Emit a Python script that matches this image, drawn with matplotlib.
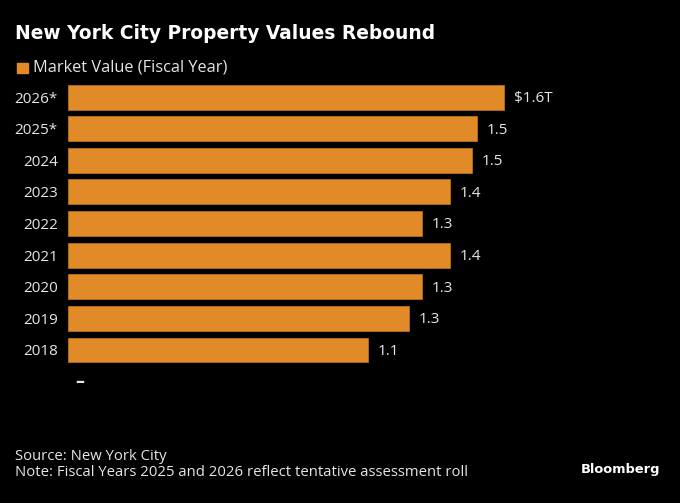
import matplotlib
matplotlib.use("Agg")
import matplotlib.pyplot as plt
from matplotlib import font_manager

# Data
years = ["2018", "2019", "2020", "2021", "2022", "2023", "2024", "2025*", "2026*"]
values = [1.10, 1.25, 1.30, 1.40, 1.30, 1.40, 1.48, 1.50, 1.60]
value_labels = ["1.1", "1.3", "1.3", "1.4", "1.3", "1.4", "1.5", "1.5", "$1.6T"]

title = "New York City Property Values Rebound"
legend_label = "Market Value (Fiscal Year)"
source = "Source: New York City"
note = "Note: Fiscal Years 2025 and 2026 reflect tentative assessment roll"

BAR_COLOR = "#E08B27"
TEXT_COLOR = "#E6E6E6"

installed = {f.name for f in font_manager.fontManager.ttflist}
body_font = next((f for f in ["Open Sans", "Noto Sans"] if f in installed), "DejaVu Sans")
plt.rcParams["font.family"] = [body_font, "DejaVu Sans"]

fig = plt.figure(figsize=(6.8, 5.03), dpi=100, facecolor="black")
W, H = 680, 503
# axes placed in pixel terms
left, right, top, bottom = 67.5, 660, 78.2, 381.6
ax = fig.add_axes([left / W, 1 - bottom / H, (right - left) / W, (bottom - top) / H])
ax.set_facecolor("black")

y = list(range(len(years)))
ax.barh(y, values, height=0.79, color=BAR_COLOR, edgecolor="#B86E1C", linewidth=0.6)
ax.set_xlim(0, (right - left) / 273.0)
ax.set_ylim(-1, 8.6)

for yi, v, lab in zip(y, values, value_labels):
    ax.annotate(lab, (v, yi), xytext=(7, -1), textcoords="offset points",
                va="center", ha="left", color=TEXT_COLOR, fontsize=11)

ax.set_yticks(y)
ax.set_yticklabels(years, fontsize=11, color=TEXT_COLOR)
ax.tick_params(axis="y", length=0, pad=7)
ax.set_xticks([])
for s in ax.spines.values():
    s.set_visible(False)

# small dash under the bars
ax.text(0.045, -1, "–", color=TEXT_COLOR, fontsize=13, ha="center", va="center",
        fontweight="bold")

# title and legend
fig.text(15 / W, 1 - 33 / H, title, fontsize=13.4, fontweight="bold", color="white",
         va="center", ha="left", family=["DejaVu Sans"])
fig.patches.append(plt.Rectangle((17 / W, 1 - 73 / H), 10.5 / W, 10.5 / H,
                                 transform=fig.transFigure, color=BAR_COLOR))
fig.text(33 / W, 1 - 68 / H, legend_label, fontsize=11.8, color=TEXT_COLOR, va="center", ha="left")

# footer
fig.text(15 / W, 1 - 457 / H, source, fontsize=10.7, color=TEXT_COLOR, va="center", ha="left")
fig.text(15 / W, 1 - 473 / H, note, fontsize=10.7, color=TEXT_COLOR, va="center", ha="left")
fig.text(660 / W, 1 - 469 / H, "Bloomberg", fontsize=9.4, fontweight="bold", color="white",
         va="center", ha="right", family=["DejaVu Sans"])

fig.savefig("out.png", dpi=100, facecolor="black")
